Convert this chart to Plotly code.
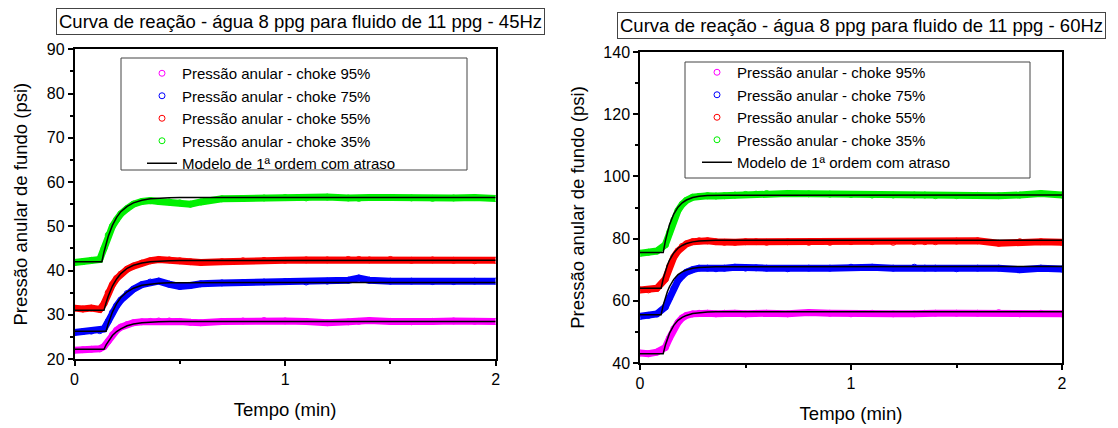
import plotly.graph_objects as go

# ---------------- data ----------------
t_data = [0, 0.04, 0.08, 0.12, 0.14, 0.16, 0.18, 0.2, 0.22, 0.25, 0.28, 0.32, 0.36, 0.4, 0.45,
          0.5, 0.55, 0.6, 0.7, 0.8, 0.9, 1.0, 1.1, 1.2, 1.3, 1.35, 1.4, 1.5, 1.6, 1.7, 1.8, 1.9, 2.0]

# 45 Hz panel
p45_c95 = [22.0, 22.1, 22.2, 22.3, 22.8, 24.0, 25.5, 26.5, 27.2, 27.8, 28.2, 28.4, 28.5, 28.6, 28.6,
           28.5, 28.3, 28.2, 28.5, 28.6, 28.7, 28.6, 28.5, 28.2, 28.4, 28.5, 28.7, 28.5, 28.4, 28.5, 28.6, 28.5, 28.5]
p45_c75 = [26.0, 26.2, 26.3, 26.4, 26.8, 28.5, 30.5, 32.0, 33.3, 34.8, 35.8, 36.8, 37.4, 37.6, 36.9,
           36.4, 36.6, 37.0, 37.2, 37.3, 37.4, 37.5, 37.4, 37.6, 37.8, 38.3, 37.8, 37.6, 37.6, 37.5, 37.5, 37.6, 37.6]
p45_c55 = [31.5, 31.3, 31.5, 31.2, 32.5, 35.0, 36.8, 38.2, 39.2, 40.3, 41.0, 41.7, 42.2, 42.5, 42.4,
           42.2, 42.0, 41.8, 42.0, 42.2, 42.3, 42.3, 42.4, 42.4, 42.5, 42.5, 42.4, 42.5, 42.3, 42.4, 42.3, 42.2, 42.3]
p45_c35 = [41.8, 42.0, 42.3, 42.5, 45.0, 48.0, 50.0, 51.5, 52.8, 54.0, 55.0, 55.6, 55.8, 55.6, 55.5,
           55.3, 55.0, 55.5, 56.2, 56.3, 56.4, 56.5, 56.4, 56.6, 56.4, 56.3, 56.5, 56.5, 56.4, 56.3, 56.4, 56.5, 56.3]

t_model45 = [0, 0.13, 0.14, 0.15, 0.16, 0.18, 0.2, 0.22, 0.25, 0.28, 0.32, 0.36, 0.4, 0.45, 0.5, 2.0]
m45_c95 = [22.2, 22.2, 22.2, 23.2, 24.0, 25.3, 26.2, 26.8, 27.5, 27.9, 28.2, 28.34, 28.42, 28.46, 28.48, 28.5]
m45_c75 = [26.3, 26.3, 26.3, 26.3, 28.0, 30.6, 32.5, 33.9, 35.2, 36.0, 36.65, 36.97, 37.13, 37.22, 37.26, 37.3]
m45_c55 = [31.0, 31.0, 31.0, 32.7, 34.2, 36.5, 38.1, 39.3, 40.5, 41.2, 41.7, 42.0, 42.15, 42.23, 42.27, 42.3]
m45_c35 = [42.0, 42.0, 44.2, 46.1, 47.7, 50.2, 52.0, 53.3, 54.5, 55.3, 55.9, 56.2, 56.34, 56.45, 56.48, 56.5]

# 60 Hz panel
p60_c95 = [43.2, 43.0, 43.5, 45.0, 48.0, 51.0, 53.0, 54.5, 55.3, 55.8, 56.0, 56.0, 55.8, 56.0, 56.0,
           55.8, 56.0, 56.0, 55.8, 56.2, 56.0, 55.8, 56.0, 55.8, 55.8, 56.0, 56.0, 56.0, 56.0, 56.2, 55.8, 56.0, 55.8]
p60_c75 = [55.0, 55.3, 55.8, 58.0, 61.0, 64.0, 66.5, 68.0, 69.2, 70.0, 70.5, 70.5, 70.3, 70.5, 70.8,
           70.5, 70.6, 70.5, 70.3, 70.5, 70.5, 70.8, 70.8, 70.5, 70.8, 70.5, 70.5, 70.3, 70.5, 70.5, 70.0, 70.5, 70.2]
p60_c55 = [63.5, 63.5, 64.0, 67.0, 71.0, 74.0, 76.0, 77.5, 78.3, 79.0, 79.3, 79.3, 79.0, 78.8, 78.8,
           79.0, 79.0, 78.8, 79.0, 78.8, 78.8, 79.0, 79.0, 78.8, 79.0, 79.0, 79.0, 79.2, 79.3, 78.5, 79.0, 79.0, 78.8]
p60_c35 = [75.3, 75.6, 76.0, 78.0, 82.0, 86.0, 89.0, 91.0, 92.3, 93.3, 93.6, 93.8, 93.7, 93.8, 94.0,
           94.2, 94.3, 94.5, 94.5, 94.4, 94.3, 94.2, 94.0, 94.0, 94.0, 94.0, 93.8, 93.8, 93.9, 93.8, 94.0, 94.5, 94.0]

t_model60 = [0, 0.1, 0.11, 0.12, 0.13, 0.14, 0.16, 0.18, 0.2, 0.22, 0.25, 0.28, 0.32, 0.36, 0.4, 2.0]
m60_c95 = [43.0, 43.0, 43.0, 45.7, 47.8, 49.6, 52.1, 53.7, 54.7, 55.3, 55.9, 56.2, 56.38, 56.45, 56.48, 56.5]
m60_c75 = [55.5, 55.5, 58.6, 61.1, 63.0, 64.6, 66.9, 68.4, 69.3, 69.9, 70.45, 70.7, 70.88, 70.95, 70.98, 71.0]
m60_c55 = [64.0, 64.0, 67.1, 69.6, 71.5, 73.1, 75.4, 76.9, 77.8, 78.4, 78.95, 79.2, 79.38, 79.45, 79.48, 79.5]
m60_c35 = [75.5, 75.5, 75.5, 79.2, 82.1, 84.5, 87.9, 90.1, 91.5, 92.4, 93.2, 93.6, 93.83, 93.93, 93.97, 94.0]

series_names = ["Pressão anular - choke 95%", "Pressão anular - choke 75%",
                "Pressão anular - choke 55%", "Pressão anular - choke 35%"]
model_name = "Modelo de 1ª ordem com atraso"
colors = ["#ff00ff", "#0000ff", "#ff0000", "#00f000"]

titles = ["Curva de reação - água 8 ppg para fluido de 11 ppg - 45Hz",
          "Curva de reação - água 8 ppg para fluido de 11 ppg - 60Hz"]
x_label = "Tempo (min)"
y_label = "Pressão anular de fundo (psi)"

panels = [
    dict(data=[p45_c95, p45_c75, p45_c55, p45_c35], tm=t_model45,
         model=[m45_c95, m45_c75, m45_c55, m45_c35], yrange=[20, 90], dtick=10, minor=5),
    dict(data=[p60_c95, p60_c75, p60_c55, p60_c35], tm=t_model60,
         model=[m60_c95, m60_c75, m60_c55, m60_c35], yrange=[40, 140], dtick=20, minor=10),
]

FONT = "Arial, 'Liberation Sans', sans-serif"
W, H = 1118, 428

fig = go.Figure()

# plot geometry (pixels)
xpix = [(74.5, 495.7), (640, 1062)]
ypix = [(49.3, 359), (52, 363)]

for i, p in enumerate(panels):
    xa = "x" if i == 0 else "x2"
    ya = "y" if i == 0 else "y2"
    lg = "legend" if i == 0 else "legend2"
    for k in range(4):
        fig.add_trace(go.Scatter(x=t_data, y=p["data"][k], mode="lines",
                                 line=dict(color=colors[k], width=7),
                                 xaxis=xa, yaxis=ya, showlegend=False, hoverinfo="skip"))
    for k in range(4):
        fig.add_trace(go.Scatter(x=t_data, y=p["data"][k], mode="markers", name=series_names[k],
                                 marker=dict(symbol="circle-open", size=6, color=colors[k],
                                             line=dict(width=1, color=colors[k])),
                                 xaxis=xa, yaxis=ya, legend=lg, showlegend=True))
    for k in range(4):
        fig.add_trace(go.Scatter(x=p["tm"], y=p["model"][k], mode="lines", name=model_name,
                                 line=dict(color="black", width=1.5),
                                 xaxis=xa, yaxis=ya, legend=lg, showlegend=(k == 0)))


def axis_common():
    return dict(showline=True, linecolor="black", linewidth=1.5, mirror=True,
                ticks="outside", ticklen=5, tickwidth=1.5, tickcolor="black",
                showgrid=False, zeroline=False, automargin=False,
                tickfont=dict(family=FONT, size=16, color="black"))


layout = dict(width=W, height=H, margin=dict(l=0, r=0, t=0, b=0, pad=0, autoexpand=False),
              plot_bgcolor="white", paper_bgcolor="white", font=dict(family=FONT, color="black"))

for i, p in enumerate(panels):
    sx = "" if i == 0 else "2"
    x0, x1 = xpix[i]
    y0, y1 = ypix[i]
    xa = axis_common()
    xa.update(domain=[x0 / W, x1 / W], range=[0, 2], tickvals=[0, 1, 2], ticktext=["0", "1", "2"],
              minor=dict(tickvals=[0.5, 1.5], ticks="outside", ticklen=3, tickwidth=1.5, tickcolor="black"),
              title=dict(text=x_label, font=dict(family=FONT, size=18.5, color="black"), standoff=16),
              anchor="y" + sx)
    ya = axis_common()
    ya.update(domain=[1 - y1 / H, 1 - y0 / H], range=p["yrange"], dtick=p["dtick"],
              minor=dict(dtick=p["minor"], ticks="outside", ticklen=3, tickwidth=1.5, tickcolor="black"),
              title=dict(text=y_label, font=dict(family=FONT, size=18.5, color="black"), standoff=14),
              anchor="x" + sx)
    layout["xaxis" + sx] = xa
    layout["yaxis" + sx] = ya

fig.update_layout(**layout)

# legends (frame drawn as a rectangle like the original)
leg_boxes = [(121, 58, 467, 170), (685, 62, 1030, 178)]
leg_pos = [(142, 57), (697, 56)]
for i, (bx0, by0, bx1, by1) in enumerate(leg_boxes):
    key = "legend" if i == 0 else "legend2"
    lx, ly = leg_pos[i]
    fig.update_layout(**{key: dict(x=lx / W, y=1 - ly / H, xanchor="left", yanchor="top",
                                   bgcolor="rgba(0,0,0,0)", borderwidth=0, tracegroupgap=0,
                                   font=dict(family=FONT, size=15, color="black"))})
    fig.add_shape(type="rect", xref="paper", yref="paper",
                  x0=bx0 / W, x1=bx1 / W, y0=1 - by1 / H, y1=1 - by0 / H,
                  line=dict(color="#444444", width=1), fillcolor="rgba(0,0,0,0)")

# boxed titles
title_pos = [(300.5, 21.8), (861.5, 26)]
for i, (cx, cy) in enumerate(title_pos):
    fig.add_annotation(text=titles[i], xref="paper", yref="paper", x=cx / W, y=1 - cy / H,
                       xanchor="center", yanchor="middle", showarrow=False,
                       font=dict(family=FONT, size=18.5, color="black"),
                       bordercolor="#444444", borderwidth=1, borderpad=2, bgcolor="white")

fig.write_html("out.html", config={"displayModeBar": False},
               post_script="document.body.style.margin='0px';")
